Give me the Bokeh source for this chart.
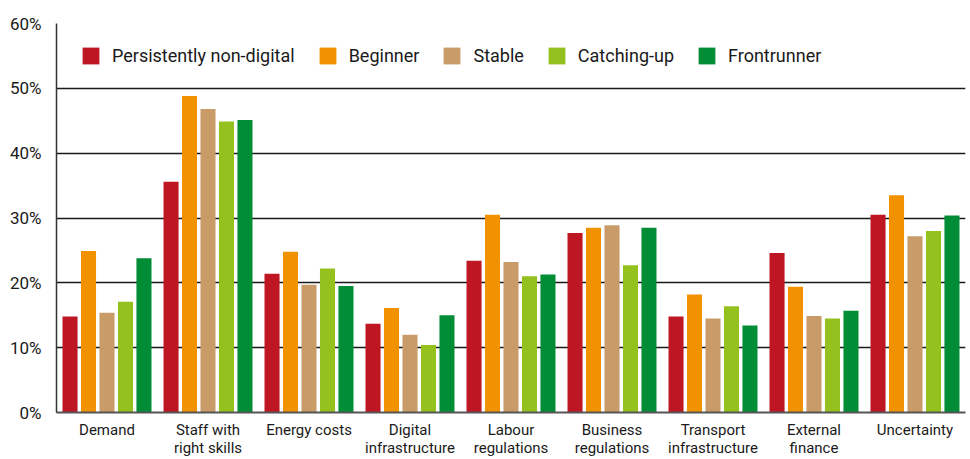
from bokeh.plotting import figure
from bokeh.models import Range1d, FixedTicker, Legend, LegendItem, ColumnDataSource
from bokeh.embed import file_html
from bokeh.resources import INLINE

categories = ["Demand", "Staff with\nright skills", "Energy costs", "Digital\ninfrastructure",
              "Labour\nregulations", "Business\nregulations", "Transport\ninfrastructure",
              "External\nfinance", "Uncertainty"]
series_names = ["Persistently non-digital", "Beginner", "Stable", "Catching-up", "Frontrunner"]
persistently_non_digital = [14.8, 35.6, 21.4, 13.7, 23.4, 27.7, 14.8, 24.6, 30.5]
beginner = [24.9, 48.8, 24.8, 16.1, 30.5, 28.5, 18.2, 19.4, 33.5]
stable = [15.4, 46.8, 19.7, 12.0, 23.2, 28.9, 14.5, 14.9, 27.2]
catching_up = [17.1, 44.9, 22.2, 10.4, 21.0, 22.7, 16.4, 14.5, 28.0]
frontrunner = [23.8, 45.1, 19.5, 15.0, 21.3, 28.5, 13.4, 15.7, 30.4]
y_ticks = [0, 10, 20, 30, 40, 50, 60]

series = [persistently_non_digital, beginner, stable, catching_up, frontrunner]
colors = ["#BE1622", "#F39200", "#C89B68", "#95C11F", "#008D36"]

FONT = "Roboto"

p = figure(width=970, height=459, output_backend="svg", toolbar_location=None,
           x_range=Range1d(0, 9), y_range=Range1d(0, 60),
           min_border_left=56, min_border_right=5, min_border_top=23, min_border_bottom=46)
p.outline_line_color = None
p.background_fill_color = "white"

pitch = 0.183
width = 0.149
centers = [i + 0.5 for i in range(len(categories))]
items = []
for k, (vals, col, name) in enumerate(zip(series, colors, series_names)):
    xs = [c + (k - 2) * pitch for c in centers]
    src = ColumnDataSource(dict(x=xs, top=vals))
    r = p.vbar(x="x", top="top", width=width, bottom=0, source=src,
               fill_color=col, line_color=None)
    items.append(LegendItem(label=name, renderers=[r]))

legend = Legend(items=items, orientation="horizontal", location=(24, 346),
                margin=0, padding=0, spacing=22, label_standoff=11,
                glyph_width=21, glyph_height=21, label_height=21,
                label_text_font=FONT, label_text_font_size="18px", label_text_color="#1a1a1a",
                border_line_color=None, background_fill_alpha=0)
p.add_layout(legend, "center")

# y axis
p.yaxis.ticker = FixedTicker(ticks=y_ticks)
p.yaxis.major_label_overrides = {t: f"{t}%" for t in y_ticks}
p.yaxis.major_label_text_font = FONT
p.yaxis.major_label_text_font_size = "17px"
p.yaxis.major_label_text_color = "#1a1a1a"
p.yaxis.major_tick_line_color = None
p.yaxis.minor_tick_line_color = None
p.yaxis.axis_line_color = "#333333"
p.yaxis.axis_line_width = 1.5
p.yaxis.major_label_standoff = 9

# x axis
p.xaxis.ticker = FixedTicker(ticks=centers)
p.xaxis.major_label_overrides = {c: lab for c, lab in zip(centers, categories)}
p.xaxis.major_label_text_font = FONT
p.xaxis.major_label_text_font_size = "15px"
p.xaxis.major_label_text_line_height = 1.0
p.xaxis.major_label_text_color = "#1a1a1a"
p.xaxis.major_tick_line_color = None
p.xaxis.minor_tick_line_color = None
p.xaxis.axis_line_color = "#555555"
p.xaxis.axis_line_width = 2
p.xaxis.major_label_standoff = 2

p.xgrid.grid_line_color = None
p.ygrid.ticker = FixedTicker(ticks=y_ticks)
p.ygrid.grid_line_color = "#1a1a1a"
p.ygrid.grid_line_width = 1.3

open("out.html", "w").write(file_html(p, INLINE))
